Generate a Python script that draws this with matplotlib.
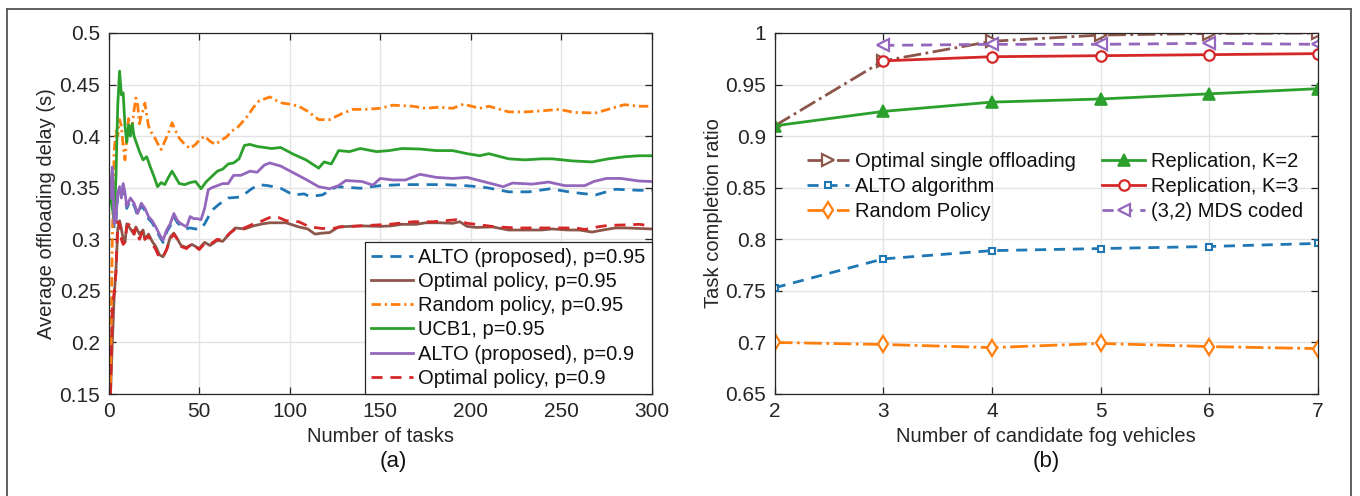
import matplotlib
matplotlib.use("Agg")
import matplotlib.pyplot as plt
from matplotlib.lines import Line2D

plt.rcParams['font.family'] = ['Liberation Sans', 'DejaVu Sans']
plt.rcParams['font.size'] = 14.5

# ---------------- data: panel (a) ----------------
t_random95 = [1, 2, 3, 4, 5, 6, 7, 8, 9, 10, 11, 12, 13, 14, 15, 16, 17, 18, 19, 20, 21, 22, 23, 25, 27, 29, 31, 33, 35, 37, 39, 42, 45, 48, 50, 53, 56, 59, 62, 65, 68, 71, 74, 77, 80, 83, 86, 89, 92, 96, 100, 105, 110, 116, 122, 129, 135, 142, 150, 157, 168, 175, 182, 190, 196, 205, 210, 221, 230, 239, 249, 257, 269, 276, 285, 293, 300]
v_random95 = [0.16, 0.30, 0.385, 0.405, 0.40, 0.416, 0.41, 0.39, 0.377, 0.40, 0.417, 0.405, 0.41, 0.425, 0.437, 0.43, 0.412, 0.42, 0.425, 0.432, 0.42, 0.41, 0.405, 0.40, 0.393, 0.387, 0.395, 0.403, 0.413, 0.405, 0.398, 0.392, 0.388, 0.392, 0.396, 0.400, 0.395, 0.392, 0.396, 0.399, 0.405, 0.408, 0.414, 0.42, 0.428, 0.434, 0.436, 0.438, 0.435, 0.432, 0.431, 0.429, 0.424, 0.416, 0.416, 0.422, 0.426, 0.426, 0.427, 0.430, 0.429, 0.427, 0.428, 0.427, 0.431, 0.427, 0.429, 0.4235, 0.4235, 0.4245, 0.426, 0.423, 0.4225, 0.426, 0.4305, 0.429, 0.429]

t_ucb95 = [1, 2, 3, 4, 5, 6, 7, 8, 9, 10, 11, 12, 13, 14, 15, 17, 19, 21, 23, 25, 27, 29, 31, 33, 35, 37, 39, 42, 45, 48, 51, 54, 57, 60, 63, 66, 69, 72, 75, 78, 82, 86, 90, 95, 102, 109, 116, 119, 123, 127, 133, 139, 148, 155, 162, 172, 181, 190, 198, 205, 210, 221, 230, 239, 245, 256, 267, 276, 285, 293, 300]
v_ucb95 = [0.34, 0.33, 0.32, 0.36, 0.43, 0.463, 0.44, 0.442, 0.41, 0.394, 0.411, 0.40, 0.412, 0.40, 0.395, 0.385, 0.377, 0.38, 0.37, 0.361, 0.351, 0.355, 0.353, 0.36, 0.366, 0.36, 0.354, 0.353, 0.355, 0.356, 0.349, 0.356, 0.361, 0.366, 0.368, 0.373, 0.374, 0.378, 0.391, 0.392, 0.390, 0.389, 0.388, 0.389, 0.3825, 0.377, 0.369, 0.375, 0.373, 0.386, 0.385, 0.388, 0.385, 0.386, 0.388, 0.3875, 0.386, 0.386, 0.383, 0.381, 0.383, 0.378, 0.377, 0.378, 0.378, 0.376, 0.375, 0.378, 0.380, 0.381, 0.381]

t_alto90 = [1, 2, 3, 4, 5, 6, 7, 8, 9, 10, 12, 14, 16, 18, 20, 22, 24, 26, 28, 30, 32, 34, 36, 38, 40, 43, 45, 47, 49, 51, 53, 55, 57, 60, 63, 66, 69, 73, 78, 82, 86, 89, 95, 102, 109, 116, 122, 127, 131, 140, 146, 150, 157, 164, 172, 181, 190, 198, 208, 218, 223, 234, 243, 252, 263, 268, 275, 283, 293, 300]
v_alto90 = [0.34, 0.37, 0.315, 0.32, 0.345, 0.351, 0.34, 0.354, 0.345, 0.332, 0.34, 0.335, 0.325, 0.335, 0.33, 0.322, 0.318, 0.312, 0.305, 0.299, 0.309, 0.315, 0.325, 0.318, 0.315, 0.312, 0.322, 0.32, 0.32, 0.319, 0.33, 0.348, 0.35, 0.352, 0.354, 0.354, 0.362, 0.362, 0.366, 0.365, 0.372, 0.374, 0.371, 0.3645, 0.358, 0.351, 0.349, 0.352, 0.357, 0.356, 0.3525, 0.359, 0.3575, 0.3575, 0.363, 0.360, 0.359, 0.360, 0.3555, 0.351, 0.3545, 0.3535, 0.3555, 0.352, 0.352, 0.356, 0.359, 0.359, 0.3565, 0.356]

t_alto95 = [1, 2, 3, 4, 5, 6, 8, 10, 12, 14, 16, 18, 20, 22, 24, 26, 28, 30, 32, 34, 36, 38, 40, 42, 45, 48, 51, 53, 57, 61, 66, 73, 79, 83, 88, 91, 95, 102, 108, 111, 118, 126, 139, 150, 162, 175, 186, 197, 204, 209, 221, 232, 244, 256, 269, 280, 293, 300]
v_alto95 = [0.335, 0.365, 0.31, 0.318, 0.342, 0.35, 0.352, 0.33, 0.338, 0.333, 0.323, 0.333, 0.328, 0.32, 0.316, 0.31, 0.303, 0.297, 0.307, 0.313, 0.322, 0.316, 0.313, 0.31, 0.311, 0.31, 0.31, 0.315, 0.328, 0.334, 0.34, 0.341, 0.349, 0.353, 0.352, 0.351, 0.3495, 0.343, 0.344, 0.3415, 0.343, 0.351, 0.3495, 0.352, 0.353, 0.353, 0.353, 0.352, 0.351, 0.350, 0.346, 0.346, 0.349, 0.3455, 0.343, 0.3485, 0.3475, 0.3475]

t_opt95 = [1, 2, 3, 4, 5, 6, 7, 8, 9, 10, 12, 14, 15, 17, 19, 20, 22, 24, 26, 28, 30, 32, 34, 36, 38, 40, 43, 46, 50, 53, 56, 60, 63, 67, 70, 75, 80, 85, 89, 94, 98, 105, 110, 114, 118, 122, 127, 133, 139, 150, 156, 162, 170, 175, 183, 190, 194, 198, 203, 212, 221, 230, 239, 245, 254, 260, 267, 273, 280, 286, 293, 300]
v_opt95 = [0.15, 0.20, 0.244, 0.27, 0.31, 0.318, 0.31, 0.30, 0.297, 0.315, 0.31, 0.305, 0.312, 0.305, 0.309, 0.30, 0.305, 0.298, 0.293, 0.285, 0.283, 0.29, 0.302, 0.306, 0.30, 0.294, 0.292, 0.295, 0.291, 0.297, 0.294, 0.299, 0.298, 0.306, 0.311, 0.31, 0.313, 0.315, 0.316, 0.316, 0.316, 0.312, 0.310, 0.305, 0.306, 0.3065, 0.312, 0.3125, 0.313, 0.3125, 0.313, 0.3145, 0.3145, 0.316, 0.316, 0.3155, 0.317, 0.3125, 0.3115, 0.312, 0.309, 0.309, 0.309, 0.31, 0.309, 0.309, 0.307, 0.309, 0.311, 0.311, 0.3105, 0.310]

t_opt90 = [1, 2, 3, 4, 5, 6, 7, 8, 9, 10, 12, 14, 15, 17, 19, 20, 22, 24, 26, 28, 30, 32, 34, 36, 38, 40, 43, 46, 50, 53, 56, 60, 63, 67, 70, 75, 80, 85, 90, 94, 98, 105, 111, 118, 124, 128, 134, 144, 155, 168, 179, 186, 192, 198, 203, 214, 226, 238, 250, 258, 263, 270, 276, 287, 293, 300]
v_opt90 = [0.15, 0.235, 0.248, 0.267, 0.317, 0.315, 0.30, 0.295, 0.298, 0.312, 0.316, 0.305, 0.31, 0.30, 0.309, 0.30, 0.303, 0.296, 0.29, 0.282, 0.283, 0.29, 0.30, 0.305, 0.30, 0.293, 0.291, 0.296, 0.29, 0.296, 0.295, 0.30, 0.299, 0.306, 0.31, 0.311, 0.315, 0.318, 0.322, 0.321, 0.318, 0.317, 0.312, 0.3105, 0.3105, 0.312, 0.3125, 0.3135, 0.3145, 0.317, 0.317, 0.318, 0.319, 0.3155, 0.3145, 0.312, 0.311, 0.311, 0.311, 0.311, 0.3095, 0.312, 0.3135, 0.314, 0.3145, 0.313]

labels_a = ['ALTO (proposed), p=0.95', 'Optimal policy, p=0.95', 'Random policy, p=0.95',
            'UCB1, p=0.95', 'ALTO (proposed), p=0.9', 'Optimal policy, p=0.9']
xticks_a = [0, 50, 100, 150, 200, 250, 300]
yticks_a = [0.15, 0.2, 0.25, 0.3, 0.35, 0.4, 0.45, 0.5]
ytlabels_a = ['0.15', '0.2', '0.25', '0.3', '0.35', '0.4', '0.45', '0.5']

# ---------------- data: panel (b) ----------------
n_fog = [2, 3, 4, 5, 6, 7]
opt_single = [0.910, 0.973, 0.992, 0.998, 0.9995, 1.0]
alto_alg = [0.753, 0.781, 0.789, 0.791, 0.793, 0.796]
random_pol = [0.700, 0.698, 0.695, 0.699, 0.696, 0.694]
rep_k2 = [0.910, 0.924, 0.933, 0.936, 0.941, 0.946]
n_fog_k3 = [3, 4, 5, 6, 7]
rep_k3 = [0.973, 0.977, 0.978, 0.979, 0.980]
n_fog_mds = [3, 4, 5, 6, 7]
mds_coded = [0.988, 0.989, 0.989, 0.990, 0.989]
labels_b = ['Optimal single offloading', 'ALTO algorithm', 'Random Policy',
            'Replication, K=2', 'Replication, K=3', '(3,2) MDS coded']
yticks_b = [0.65, 0.7, 0.75, 0.8, 0.85, 0.9, 0.95, 1.0]
ytlabels_b = ['0.65', '0.7', '0.75', '0.8', '0.85', '0.9', '0.95', '1']

C_BLUE, C_ORANGE, C_GREEN, C_RED, C_PURPLE, C_BROWN = '#1f77b4', '#ff7f0e', '#2ca02c', '#d62728', '#9467bd', '#8c564b'
TXT = '#262626'
GRID = '#e3e3e3'

W, H = 1360, 496
fig = plt.figure(figsize=(W / 100, H / 100), dpi=100)

def style_axes(ax):
    ax.grid(True, color=GRID, linewidth=1.0)
    ax.set_axisbelow(True)
    for s in ax.spines.values():
        s.set_color(TXT)
        s.set_linewidth(0.9)
    ax.tick_params(direction='in', length=5, width=0.9, colors=TXT, top=True, right=True,
                   labelsize=15, pad=6)

# ---------- panel (a) ----------
axa = fig.add_axes([108.7 / W, (H - 394) / H, 543 / W, 361 / H])
lw = 2.0
axa.plot(t_alto95, v_alto95, color=C_BLUE, lw=lw, dashes=(4, 2.8), label=labels_a[0])
axa.plot(t_opt95, v_opt95, color=C_BROWN, lw=lw, ls='-', label=labels_a[1])
axa.plot(t_random95, v_random95, color=C_ORANGE, lw=lw, dashes=(3.4, 1.4, 0.8, 1.4), label=labels_a[2])
axa.plot(t_ucb95, v_ucb95, color=C_GREEN, lw=lw, ls='-', label=labels_a[3])
axa.plot(t_alto90, v_alto90, color=C_PURPLE, lw=lw, ls='-', label=labels_a[4])
axa.plot(t_opt90, v_opt90, color=C_RED, lw=lw, dashes=(4, 2.8), label=labels_a[5])
axa.set_xlim(0, 300)
axa.set_ylim(0.15, 0.5)
axa.set_xticks(xticks_a)
axa.set_yticks(yticks_a, ytlabels_a)
style_axes(axa)
axa.set_xlabel('Number of tasks', color=TXT, va='center')
axa.xaxis.set_label_coords(0.5, -0.119)
axa.set_ylabel('Average offloading delay (s)', color=TXT, va='center')
axa.yaxis.set_label_coords(-0.114, 0.5)
leg_a = axa.legend(loc='lower right', bbox_to_anchor=(1.0, 0.0), borderaxespad=0.0,
                   fancybox=False, framealpha=1.0, edgecolor=TXT, fontsize=14.5,
                   handlelength=2.1, handletextpad=0.25, labelspacing=0.26, borderpad=0.3)
leg_a.get_frame().set_linewidth(0.9)
for txt in leg_a.get_texts():
    txt.set_color('#111111')

# ---------- panel (b) ----------
axb = fig.add_axes([774.7 / W, (H - 394) / H, 543 / W, 361 / H])
lwb = 2.0
h1, = axb.plot(n_fog, opt_single, color=C_BROWN, lw=lwb, ls='-.', marker='>', ms=8,
               mfc='white', mew=1.6, label=labels_b[0])
h2, = axb.plot(n_fog, alto_alg, color=C_BLUE, lw=lwb, dashes=(4, 2.8), marker='s', ms=5,
               mfc='white', mew=1.5, label=labels_b[1])
h3, = axb.plot(n_fog, random_pol, color=C_ORANGE, lw=lwb, ls='-.', marker='d', ms=8.5,
               mfc='white', mew=1.6, label=labels_b[2])
h4, = axb.plot(n_fog, rep_k2, color=C_GREEN, lw=lwb, ls='-', marker='^', ms=9,
               mfc=C_GREEN, mew=1.2, label=labels_b[3])
h5, = axb.plot(n_fog_k3, rep_k3, color=C_RED, lw=lwb, ls='-', marker='o', ms=7.5,
               mfc='white', mew=1.6, label=labels_b[4])
h6, = axb.plot(n_fog_mds, mds_coded, color=C_PURPLE, lw=lwb, dashes=(4, 2.8), marker='<', ms=8,
               mfc='white', mew=1.6, label=labels_b[5])
axb.set_xlim(2, 7)
axb.set_ylim(0.65, 1.0)
axb.set_xticks(n_fog)
axb.set_yticks(yticks_b, ytlabels_b)
style_axes(axb)
axb.set_xlabel('Number of candidate fog vehicles', color=TXT, va='center')
axb.xaxis.set_label_coords(0.5, -0.119)
axb.set_ylabel('Task completion ratio', color=TXT, va='center')
axb.yaxis.set_label_coords(-0.1135, 0.5)
leg_b = axb.legend(handles=[h1, h2, h3, h4, h5, h6], ncol=2, loc='upper left',
                   bbox_to_anchor=(0.0595, 0.671), borderaxespad=0.0, borderpad=0.0,
                   frameon=False, fontsize=14.5, handlelength=2.1, handletextpad=0.3,
                   labelspacing=0.3, columnspacing=1.3)
for txt in leg_b.get_texts():
    txt.set_color('#111111')

# ---------- captions ----------
fig.text(393 / W, 1 - 462 / H, '(a)', ha='center', va='center', fontsize=16, color='#111111')
fig.text(1046 / W, 1 - 462 / H, '(b)', ha='center', va='center', fontsize=16, color='#111111')

# ---------- outer frame ----------
fc = '#555555'
for xs, ys in [([7 / W, 7 / W], [0, 1 - 9 / H]),
               ([7 / W, 1351 / W], [1 - 9 / H, 1 - 9 / H]),
               ([1351 / W, 1351 / W], [0, 1 - 9 / H])]:
    fig.add_artist(Line2D(xs, ys, transform=fig.transFigure, color=fc, lw=1.3))

fig.savefig('out.png', dpi=100)
